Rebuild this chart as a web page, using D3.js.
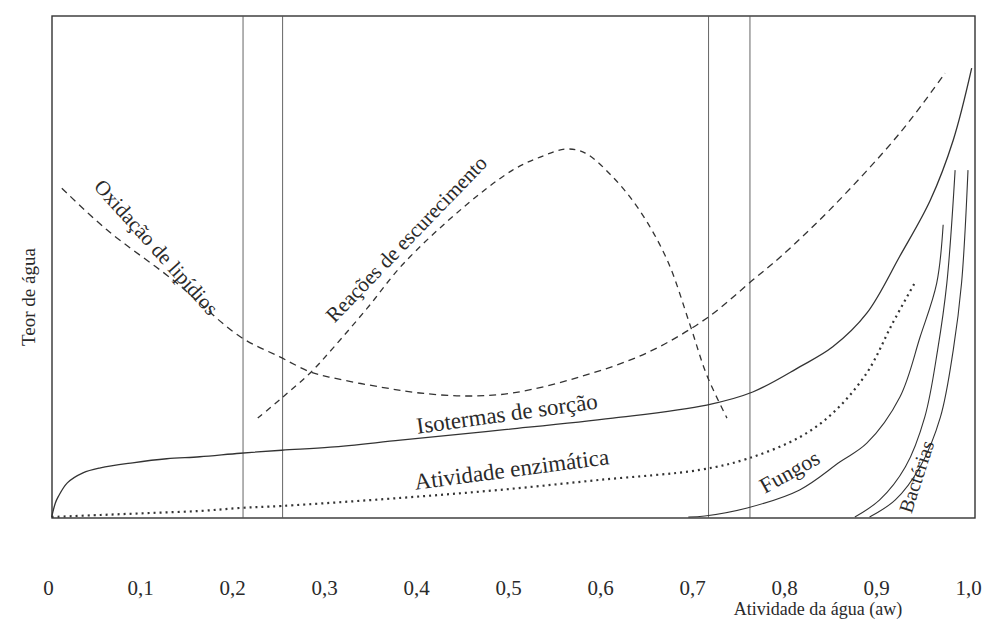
<!DOCTYPE html>
<html>
<head>
<meta charset="utf-8">
<script src="https://cdn.jsdelivr.net/npm/d3@7"></script>
<style>
  html, body { margin: 0; padding: 0; background: #fff; }
  svg { display: block; }
  text { font-family: "Liberation Serif", "DejaVu Serif", serif; fill: #2a2a2a; }
</style>
</head>
<body>
<svg id="chart" width="988" height="621"></svg>
<script>
// Atividade de água (aw) no eixo x, teor de água relativo (0-100) no eixo y
const tickValues = [0, 0.1, 0.2, 0.3, 0.4, 0.5, 0.6, 0.7, 0.8, 0.9, 1.0];
const tickLabels = ["0", "0,1", "0,2", "0,3", "0,4", "0,5", "0,6", "0,7", "0,8", "0,9", "1,0"];

// limites das zonas de atividade de água (linhas verticais)
const zoneBounds = [0.212, 0.255, 0.718, 0.763];

// [aw, teor]
const isotermas = [
  [0.004, 0], [0.008, 2.8], [0.011, 4.0], [0.021, 6.8], [0.038, 8.8], [0.057, 9.8],
  [0.092, 10.8], [0.129, 11.6], [0.165, 12.0], [0.209, 12.7], [0.254, 13.3],
  [0.307, 13.9], [0.383, 15.3], [0.491, 17.3], [0.614, 19.7], [0.716, 22.3],
  [0.766, 24.9], [0.817, 29.9], [0.853, 33.9], [0.890, 40.6], [0.926, 52.0],
  [0.959, 63.1], [0.984, 75.1], [1.004, 89.4]
];
const atividadeEnzimatica = [
  [0.004, 0], [0.057, 0.4], [0.111, 0.8], [0.165, 1.2], [0.209, 1.8], [0.254, 2.2],
  [0.383, 3.8], [0.491, 5.4], [0.600, 7.4], [0.709, 9.4], [0.760, 11.6],
  [0.817, 15.9], [0.853, 20.7], [0.890, 28.7], [0.918, 38.6], [0.942, 46.6]
];
const fungos = [
  [0.696, 0], [0.714, 0.2], [0.760, 1.8], [0.817, 5.4], [0.861, 11.0],
  [0.890, 14.7], [0.926, 23.9], [0.948, 35.9], [0.966, 46.6], [0.973, 58.2]
];
const bacterias1 = [
  [0.877, 0], [0.904, 3.4], [0.932, 10.0], [0.953, 19.9], [0.967, 33.3],
  [0.977, 46.6], [0.986, 69.1]
];
const bacterias2 = [
  [0.893, 0], [0.921, 3.4], [0.948, 10.0], [0.970, 19.9], [0.984, 33.3],
  [0.993, 46.6], [1.000, 69.1]
];
const oxidacaoLipidios = [
  [0.015, 65.5], [0.064, 57.2], [0.136, 47.2], [0.209, 35.9], [0.252, 31.9],
  [0.285, 28.9], [0.310, 27.7], [0.361, 25.9], [0.404, 24.7], [0.455, 24.1],
  [0.505, 24.7], [0.578, 27.9], [0.651, 32.7], [0.716, 39.6], [0.766, 47.2],
  [0.796, 51.8], [0.853, 61.8], [0.926, 76.5], [0.975, 88.4]
];
const escurecimento = [
  [0.228, 19.7], [0.254, 23.7], [0.285, 28.7], [0.310, 33.7], [0.347, 41.6],
  [0.386, 50.4], [0.451, 61.6], [0.505, 69.1], [0.535, 71.7], [0.563, 73.3],
  [0.584, 72.5], [0.614, 67.7], [0.643, 61.1], [0.673, 51.2], [0.698, 38.2],
  [0.716, 28.3], [0.738, 19.7]
];

const svg = d3.select("#chart");

const x = d3.scaleLinear().domain([0, 1]).range([48, 968]);
const y = d3.scaleLinear().domain([0, 100]).range([517, 15]);

// moldura do gráfico
const frame = { left: 52, right: 975, top: 16, bottom: 518 };
svg.append("rect")
  .attr("x", frame.left).attr("y", frame.top)
  .attr("width", frame.right - frame.left)
  .attr("height", frame.bottom - frame.top)
  .attr("fill", "none")
  .attr("stroke", "#333")
  .attr("stroke-width", 1.4);

// linhas verticais das zonas
svg.append("g").selectAll("line")
  .data(zoneBounds)
  .join("line")
  .attr("x1", d => x(d)).attr("x2", d => x(d))
  .attr("y1", frame.top).attr("y2", frame.bottom)
  .attr("stroke", "#555")
  .attr("stroke-width", 0.9);

const line = d3.line()
  .x(d => x(d[0]))
  .y(d => y(d[1]))
  .curve(d3.curveCatmullRom.alpha(0.5));

const curves = [
  { data: isotermas, width: 1.3, dash: null },
  { data: fungos, width: 1.1, dash: null },
  { data: bacterias1, width: 1.1, dash: null },
  { data: bacterias2, width: 1.1, dash: null },
  { data: atividadeEnzimatica, width: 2.2, dash: "2,4" },
  { data: oxidacaoLipidios, width: 1.3, dash: "7,5" },
  { data: escurecimento, width: 1.3, dash: "6,5" }
];

svg.append("g").selectAll("path")
  .data(curves)
  .join("path")
  .attr("d", d => line(d.data))
  .attr("fill", "none")
  .attr("stroke", "#333")
  .attr("stroke-width", d => d.width)
  .attr("stroke-dasharray", d => d.dash);

// rótulos das curvas
const labels = [
  { text: "Oxidação de lipídios", at: [0.112, 52.8], angle: 48, size: 21 },
  { text: "Reações de escurecimento", at: [0.395, 54.4], angle: -46, size: 21 },
  { text: "Isotermas de sorção", at: [0.500, 19.1], angle: -8, size: 23 },
  { text: "Atividade enzimática", at: [0.505, 8.0], angle: -7.5, size: 23 },
  { text: "Fungos", at: [0.810, 7.7], angle: -29, size: 22 },
  { text: "Bactérias", at: [0.951, 7.6], angle: -72, size: 20 }
];

svg.append("g").selectAll("text")
  .data(labels)
  .join("text")
  .attr("text-anchor", "middle")
  .attr("font-size", d => d.size)
  .attr("transform", d => `translate(${x(d.at[0])},${y(d.at[1])}) rotate(${d.angle})`)
  .text(d => d.text);

// eixo x sem traços, só os valores
const axis = d3.axisBottom(x)
  .tickValues(tickValues)
  .tickSize(0)
  .tickPadding(0)
  .tickFormat((d, i) => tickLabels[i]);

const gx = svg.append("g")
  .attr("transform", "translate(0,582)")
  .call(axis);
gx.select(".domain").remove();
gx.selectAll("text")
  .attr("font-family", "Liberation Serif, serif")
  .attr("font-size", 21)
  .attr("fill", "#555")
  .attr("dy", "0.32em")
  .attr("y", 6);

// títulos dos eixos
svg.append("text")
  .attr("x", 818).attr("y", 615)
  .attr("text-anchor", "middle")
  .attr("font-size", 18)
  .attr("fill", "#333")
  .text("Atividade da água (aw)");

svg.append("text")
  .attr("transform", "translate(35,297) rotate(-90)")
  .attr("text-anchor", "middle")
  .attr("font-size", 19)
  .attr("fill", "#333")
  .text("Teor de água");
</script>
</body>
</html>
